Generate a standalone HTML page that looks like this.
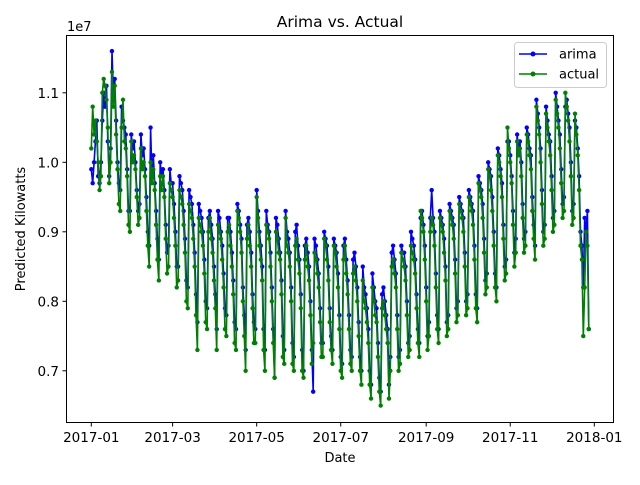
<!DOCTYPE html>
<html><head><meta charset="utf-8"><style>
body{margin:0;background:#fff}
svg text{font-family:"DejaVu Sans","Liberation Sans",sans-serif;fill:#000}
</style></head><body>
<svg id="chart" width="640" height="480" xmlns="http://www.w3.org/2000/svg">
<rect width="640" height="480" fill="#fff"/>
<text x="340" y="27" font-size="15.5" text-anchor="middle">Arima vs. Actual</text>
<text x="340" y="462" font-size="13" text-anchor="middle">Date</text>
<text x="25" y="229" font-size="13" text-anchor="middle" transform="rotate(-90 25 229)">Predicted Kilowatts</text>
<text x="67" y="31" font-size="13">1e7</text>
<g id="plot"></g>
<rect x="66.5" y="35.5" width="547" height="387" fill="none" stroke="#000" stroke-width="1"/>
<g>
<rect x="514.5" y="42.5" width="92" height="45" rx="3" fill="#fff" fill-opacity="0.8" stroke="#ccc"/>
<g><line x1="519" y1="54" x2="547" y2="54" stroke="#0000ff" stroke-width="1.5"/><circle cx="533" cy="54" r="2.5" fill="#0000ff"/><text x="559" y="58.5" font-size="13">arima</text></g>
<g><line x1="519" y1="74" x2="547" y2="74" stroke="#008000" stroke-width="1.5"/><circle cx="533" cy="74" r="2.5" fill="#008000"/><text x="559" y="78.5" font-size="13">actual</text></g>
</g>
</svg>
<script>
const yTicks=[0.7,0.8,0.9,1.0,1.1];
const yTickLabels=["0.7","0.8","0.9","1.0","1.1"];
const xTickMonths=[0,2,4,6,8,10,12];
const xTickLabels=["2017-01","2017-03","2017-05","2017-07","2017-09","2017-11","2018-01"];
const actual=[102,108,104,106,103,100,96, 98,110,112,111,109,105,97, 100,113,108,111,104,99,94, 93,105,109,103,102,98,91,
90,103,100,101,99,95,91, 92,102,99,100,98,93,88, 85,100,97,99,96,91,86, 83,98,96,98,95,89,84,
85,97,96,95,92,88,82, 83,96,95,94,91,87,80, 79,94,93,92,89,85,78, 73,92,91,90,88,84,77, 76,90,92,89,87,83,79,
73,91,90,89,86,82,76, 75,90,91,88,85,81,74, 73,93,92,90,87,80,75, 70,89,91,88,85,79,74, 74,95,92,88,86,83,73,
70,91,90,89,85,80,74, 69,90,89,87,86,81,72, 71,92,88,87,85,80,71, 70,88,89,86,84,79,70,
69,86,88,85,83,78,71, 74,87,86,84,82,77,72, 72,89,88,86,83,77,73, 71,88,87,85,82,76,70,
69,86,88,84,81,76,71, 70,84,85,83,80,75,70, 68,83,80,79,77,74,68, 66,82,80,78,77,72,67, 65,79,80,78,76,74,66,
70,85,86,84,82,76,70, 71,87,86,85,83,78,72, 73,88,87,86,84,79,74, 72,93,92,90,86,80,73,
75,90,92,91,88,82,76, 74,92,91,90,87,83,75, 76,93,92,91,89,84,77, 78,94,93,92,90,85,78,
79,95,94,93,91,86,79, 77,97,96,95,92,87,81, 82,99,98,96,93,88,82, 80,101,100,98,95,89,83, 84,105,102,100,97,91,85,
87,103,101,102,98,92,87, 88,104,103,101,99,93,89, 86,108,106,104,100,94,88, 89,107,105,103,101,96,90,
91,109,107,105,102,97,92, 93,110,108,106,103,98,91, 92,107,104,101,96,88,86, 75,82,90,88,76];
const arima=[99,97,100,103,106,98,97, 100,106,110,108,111,103,98, 102,116,110,112,106,100,97, 96,108,106,105,104,99,93,
93,104,102,103,100,96,93, 94,104,101,102,99,95,90, 88,105,98,101,97,93,89, 86,100,98,99,96,91,87,
88,99,97,97,94,90,85, 85,98,97,96,93,89,83, 82,96,95,94,91,87,81, 77,94,93,92,90,86,80, 79,92,93,91,89,85,81,
76,93,92,90,88,84,79, 78,92,92,90,87,83,77, 76,94,93,91,89,82,78, 73,91,92,90,87,81,77, 76,96,93,90,88,85,76,
73,93,91,90,87,82,76, 69,92,91,89,87,83,75, 73,93,90,89,87,82,74, 72,90,91,88,86,81,73,
70,88,89,87,85,80,73, 67,89,88,86,84,79,74, 74,90,89,88,85,79,75, 73,89,88,87,84,78,72,
71,88,89,86,83,78,73, 72,86,87,85,82,77,72, 70,85,82,81,79,76,70, 68,84,82,80,79,74,69, 67,81,82,80,78,76,68,
72,87,88,86,84,78,72, 73,88,87,87,85,80,74, 75,90,89,88,86,81,76, 74,92,93,91,88,82,75,
77,92,96,92,90,84,78, 76,93,92,91,89,85,77, 78,94,93,92,91,86,79, 80,95,94,93,92,87,80,
81,96,95,94,93,88,81, 79,98,97,96,94,89,83, 84,100,99,98,95,90,84, 82,102,101,99,97,91,85, 86,103,103,101,98,93,87,
89,104,102,103,100,94,89, 90,105,104,102,101,95,91, 88,109,107,105,102,96,90, 91,108,106,104,103,98,92,
93,110,108,106,104,99,94, 95,108,109,107,105,100,93, 94,106,105,102,98,90,88, 82,92,90,93,76];
const X0=91.3, PXDAY=503/365, Y1=162.3, PXUNIT=695;
function xScale(i){return X0+i*PXDAY;}
function yScale(v){return Y1+(1.0-v)*PXUNIT;}
const NS="http://www.w3.org/2000/svg";
const plot=document.getElementById('plot');
const chart=document.getElementById('chart');
yTicks.forEach((t,k)=>{
  const y=yScale(t);
  const l=document.createElementNS(NS,'line');
  l.setAttribute('x1',62.5);l.setAttribute('x2',66.5);l.setAttribute('y1',y);l.setAttribute('y2',y);l.setAttribute('stroke','#000');
  
  
  chart.appendChild(l);
  const tx=document.createElementNS(NS,'text');
  tx.setAttribute('x',59);tx.setAttribute('y',y+5);tx.setAttribute('font-size','13.5');tx.setAttribute('text-anchor','end');
  tx.textContent=yTickLabels[k];
  
  
  chart.appendChild(tx);
});
const dayOfMonth=[0,31,59,90,120,151,181,212,243,273,304,334,365];
xTickMonths.forEach((m,k)=>{
  const x=xScale(dayOfMonth[m]);
  const l=document.createElementNS(NS,'line');
  l.setAttribute('x1',x);l.setAttribute('x2',x);l.setAttribute('y1',422.5);l.setAttribute('y2',426.5);l.setAttribute('stroke','#000');
  
  
  chart.appendChild(l);
  const tx=document.createElementNS(NS,'text');
  tx.setAttribute('x',x);tx.setAttribute('y',442);tx.setAttribute('font-size','13.5');tx.setAttribute('text-anchor','middle');
  tx.textContent=xTickLabels[k];
  
  
  chart.appendChild(tx);
});
function drawSeries(vals,color,name){
  const g=document.createElementNS(NS,'g');
  
  
  const pts=vals.map((v,i)=>xScale(i).toFixed(1)+','+yScale(v/100).toFixed(1)).join(' ');
  const pl=document.createElementNS(NS,'polyline');
  pl.setAttribute('points',pts);pl.setAttribute('fill','none');pl.setAttribute('stroke',color);pl.setAttribute('stroke-width','1.6');pl.setAttribute('stroke-linejoin','round');
  
  
  g.appendChild(pl);
  vals.forEach((v,i)=>{
    const c=document.createElementNS(NS,'circle');
    c.setAttribute('cx',xScale(i));c.setAttribute('cy',yScale(v/100));c.setAttribute('r','2.2');c.setAttribute('fill',color);
    
    
    g.appendChild(c);
  });
  plot.appendChild(g);
}
drawSeries(arima,'#0000ff','arima');
drawSeries(actual,'#008000','actual');
</script>
</body></html>
